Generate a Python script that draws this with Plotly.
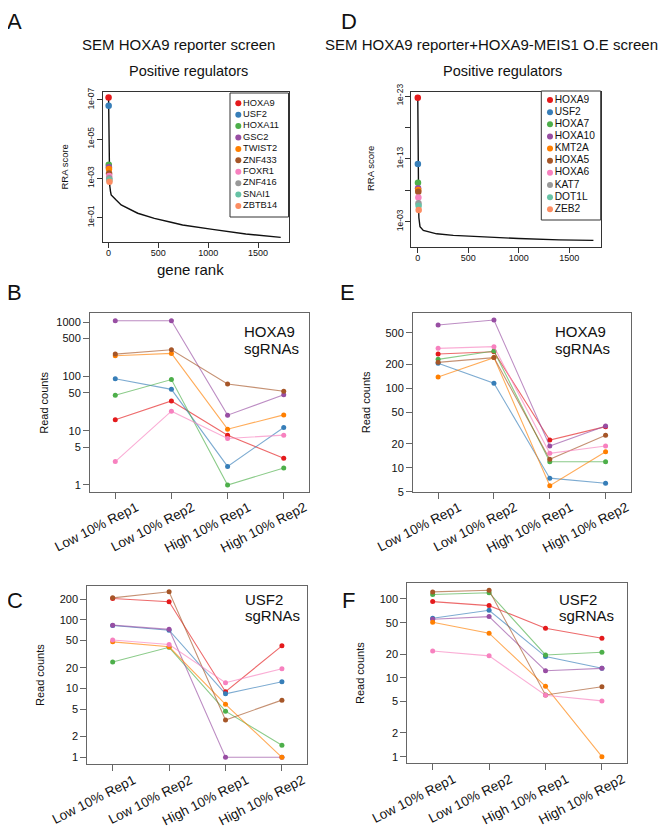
import plotly.graph_objects as go

# The page body has an 8px margin; positions below are given in reference-picture pixels
OFF = 8
W, H = 668 - OFF, 833 - OFF
FONT = "Liberation Sans, Arial, Helvetica, sans-serif"

# ---------------- data ----------------
colors10 = ["#E41A1C", "#377EB8", "#4DAF4A", "#984EA3", "#FF7F00",
            "#A65628", "#F781BF", "#999999", "#66C2A5", "#FC8D62"]

# Panel A: SEM HOXA9 reporter screen
A_genes = ["HOXA9", "USF2", "HOXA11", "GSC2", "TWIST2", "ZNF433", "FOXR1", "ZNF416", "SNAI1", "ZBTB14"]
A_gene_rank = [1, 2, 3, 4, 5, 6, 7, 8, 9, 10]
A_gene_score = [7.6e-8, 2.0e-7, 2.0e-4, 2.7e-4, 3.3e-4, 5.5e-4, 7.4e-4, 9.8e-4, 1.2e-3, 1.45e-3]
A_curve_rank = [1, 2, 3, 4, 5, 6, 7, 8, 9, 10, 12, 20, 27, 77, 127, 293, 460, 627, 743, 1043, 1377, 1727]
A_curve_score = [7.6e-8, 2.0e-7, 2.0e-4, 2.7e-4, 3.3e-4, 5.5e-4, 7.4e-4, 9.8e-4, 1.2e-3, 1.45e-3,
                 2.2e-3, 4.5e-3, 6.9e-3, 0.0126, 0.0224, 0.059, 0.107, 0.17, 0.234, 0.39, 0.676, 1.0]

# Panel D: SEM HOXA9 reporter + HOXA9-MEIS1 O.E screen
D_genes = ["HOXA9", "USF2", "HOXA7", "HOXA10", "KMT2A", "HOXA5", "HOXA6", "KAT7", "DOT1L", "ZEB2"]
D_gene_rank = [1, 2, 3, 4, 5, 6, 7, 8, 9, 10]
D_gene_score = [1.9e-23, 6.8e-13, 6.5e-10, 5.0e-9, 9.3e-9, 1.7e-8, 1.5e-7, 1.2e-6, 3.0e-6, 1.4e-5]
D_curve_rank = [1, 2, 3, 4, 5, 6, 7, 8, 9, 10, 12, 23, 56, 188, 353, 518, 700, 1000, 1400, 1740]
D_curve_score = [1.9e-23, 6.8e-13, 6.5e-10, 5.0e-9, 9.3e-9, 1.7e-8, 1.5e-7, 1.2e-6, 3.0e-6, 1.4e-5,
                 2.5e-4, 6.3e-3, 0.025, 0.089, 0.158, 0.224, 0.316, 0.5, 0.83, 1.0]

categories = ["Low 10% Rep1", "Low 10% Rep2", "High 10% Rep1", "High 10% Rep2"]
sg_colors = ["#E41A1C", "#377EB8", "#4DAF4A", "#984EA3", "#FF7F00", "#A65628", "#F781BF"]

# Panel B: HOXA9 sgRNAs (reporter screen)
B_red = [15.9, 35.5, 8.3, 3.1]
B_blue = [91, 58, 2.2, 11.5]
B_green = [45, 88, 1, 2.05]
B_purple = [1070, 1070, 19.4, 46]
B_orange = [242, 267, 10.7, 19.6]
B_brown = [259, 312, 73, 53.5]
B_pink = [2.7, 23, 7.2, 8.3]

# Panel E: HOXA9 sgRNAs (O.E screen)
E_red = [270, 288, 22.3, 32.9]
E_blue = [206, 116, 7.4, 6.4]
E_green = [231, 294, 11.9, 11.9]
E_purple = [625, 722, 18.8, 33.5]
E_orange = [139, 243, 5.94, 15.9]
E_brown = [212, 243, 12.8, 25.6]
E_pink = [318, 334, 15.2, 18.8]

# Panel C: USF2 sgRNAs (reporter screen)
C_red = [205, 184, 9.0, 42]
C_blue = [83, 71, 8.4, 12.6]
C_green = [24.4, 40, 4.7, 1.5]
C_purple = [84, 73, 1, 1]
C_orange = [48, 40.7, 5.9, 1]
C_brown = [210, 257, 3.5, 6.8]
C_pink = [51, 44, 12.2, 19.5]

# Panel F: USF2 sgRNAs (O.E screen)
F_red = [92.7, 82.4, 42.6, 31.8]
F_blue = [57, 72, 18.6, 13.2]
F_green = [114, 120, 19.5, 21.1]
F_purple = [55.4, 59.8, 12.3, 13.2]
F_orange = [50.8, 36.8, 7.8, 1]
F_brown = [123, 129, 6.07, 7.7]
F_pink = [21.9, 19, 6.0, 5.1]

B_ticks = [1, 5, 10, 50, 100, 500, 1000]
E_ticks = [5, 10, 20, 50, 100, 200, 500]
C_ticks = [1, 2, 5, 10, 20, 50, 100, 200]
F_ticks = [1, 2, 5, 10, 20, 50, 100]

# ---------------- helpers ----------------
def px(x):
    return (x - OFF) / W

def py(y):
    return 1 - (y - OFF) / H

def dx(l, r):
    return [px(l), px(r)]

def dy(t, b):
    return [py(b), py(t)]

def rgba(hexc, a):
    hexc = hexc.lstrip("#")
    r, g, b = int(hexc[0:2], 16), int(hexc[2:4], 16), int(hexc[4:6], 16)
    return f"rgba({r},{g},{b},{a})"

fig = go.Figure()
annotations = []
shapes = []

def ann(text, x, y, size, xanchor="center", yanchor="middle", angle=0, color="#111"):
    annotations.append(dict(text=text, x=px(x), y=py(y), xref="paper", yref="paper",
                            xanchor=xanchor, yanchor=yanchor, showarrow=False, textangle=angle,
                            font=dict(family=FONT, size=size, color=color)))

# ---------------- RRA panels ----------------
def rra_panel(idx, rank_c, score_c, grank, gscore, genes):
    xa = "x" if idx == 1 else f"x{idx}"
    ya = "y" if idx == 1 else f"y{idx}"
    fig.add_trace(go.Scatter(x=rank_c, y=score_c, mode="lines", xaxis=xa, yaxis=ya,
                             line=dict(color="#111", width=1.4), showlegend=False, hoverinfo="skip"))
    fig.add_trace(go.Scatter(x=grank, y=gscore, mode="markers", xaxis=xa, yaxis=ya,
                             marker=dict(color=colors10, size=6.5), showlegend=False,
                             text=genes))

rra_panel(1, A_curve_rank, A_curve_score, A_gene_rank, A_gene_score, A_genes)
rra_panel(2, D_curve_rank, D_curve_score, D_gene_rank, D_gene_score, D_genes)

def legend_panel(idx, genes, size):
    xa, ya = f"x{idx}", f"y{idx}"
    fig.add_trace(go.Scatter(x=[0] * len(genes), y=list(range(len(genes))), mode="markers+text",
                             xaxis=xa, yaxis=ya, text=genes, textposition="middle right",
                             textfont=dict(family=FONT, size=size, color="#111"),
                             marker=dict(color=colors10, size=6), showlegend=False, hoverinfo="skip"))

legend_panel(7, A_genes, 9.3)
legend_panel(8, D_genes, 10.2)

# ---------------- sgRNA panels ----------------
def sg_panel(idx, series):
    xa, ya = f"x{idx}", f"y{idx}"
    for vals, c in zip(series, sg_colors):
        fig.add_trace(go.Scatter(x=[0, 1, 2, 3], y=vals, mode="lines+markers", xaxis=xa, yaxis=ya,
                                 line=dict(color=rgba(c, 0.65), width=1.1),
                                 marker=dict(color=c, size=5), showlegend=False))

sg_panel(3, [B_red, B_blue, B_green, B_purple, B_orange, B_brown, B_pink])
sg_panel(4, [E_red, E_blue, E_green, E_purple, E_orange, E_brown, E_pink])
sg_panel(5, [C_red, C_blue, C_green, C_purple, C_orange, C_brown, C_pink])
sg_panel(6, [F_red, F_blue, F_green, F_purple, F_orange, F_brown, F_pink])

# ---------------- axes ----------------
lay = dict(width=W, height=H, autosize=False,
           margin=dict(l=0, r=0, t=0, b=0, pad=0, autoexpand=False),
           paper_bgcolor="white", plot_bgcolor="white", showlegend=False)

def base_axis(**kw):
    d = dict(showgrid=False, zeroline=False, showline=True, mirror=True, automargin=False,
             linecolor="#333", linewidth=1, ticks="outside", ticklen=5, tickcolor="#333",
             tickfont=dict(family=FONT, size=9, color="#111"))
    d.update(kw)
    return d

# A
lay["xaxis"] = base_axis(domain=dx(102.7, 288.5), range=[-58, 1805], anchor="y",
                         tickvals=[0, 500, 1000, 1500], ticklabelstandoff=-3)
lay["yaxis"] = base_axis(domain=dy(92.3, 241.7), type="log", range=[0.22, -7.39], anchor="x",
                         tickvals=[1e-7, 1e-5, 1e-3, 1e-1],
                         ticktext=["1e-07", "1e-05", "1e-03", "1e-01"], tickangle=-90,
                         ticklabelstandoff=-1,
                         tickfont=dict(family=FONT, size=8.5, color="#111"))
# D
lay["xaxis2"] = base_axis(domain=dx(411, 600.7), range=[-66, 1812], anchor="y2",
                          tickvals=[0, 500, 1000, 1500], ticklabelstandoff=-3)
lay["yaxis2"] = base_axis(domain=dy(92.3, 246.7), type="log", range=[1.0, -23.59], anchor="x2",
                          tickvals=[1e-23, 1e-18, 1e-13, 1e-8, 1e-3],
                          ticktext=["1e-23", "", "1e-13", "", "1e-03"], tickangle=-90,
                          ticklabelstandoff=-1,
                          tickfont=dict(family=FONT, size=8.5, color="#111"))

def sg_axes(idx, xl, xr, yt, yb, yrange, ticks):
    lay[f"xaxis{idx}"] = base_axis(domain=dx(xl, xr), range=[-0.45, 3.45], anchor=f"y{idx}",
                                   tickvals=[0, 1, 2, 3], ticktext=categories, tickangle=-27,
                                   linecolor="#666", tickcolor="#666", ticklen=6,
                                   ticklabelshift=21, ticklabelstandoff=-4,
                                   tickfont=dict(family=FONT, size=13.5, color="#111"))
    lay[f"yaxis{idx}"] = base_axis(domain=dy(yt, yb), type="log", range=yrange, anchor=f"x{idx}",
                                   tickvals=ticks, ticktext=[str(t) for t in ticks],
                                   linecolor="#666", tickcolor="#666", ticklen=6,
                                   tickfont=dict(family=FONT, size=11, color="#111"))

sg_axes(3, 90, 309, 313.3, 491.7, [-0.124, 3.166], B_ticks)
sg_axes(4, 413, 630.7, 313.3, 491.7, [0.699, 2.943], E_ticks)
sg_axes(5, 87.3, 307.3, 585.7, 764.3, [-0.102, 2.499], C_ticks)
sg_axes(6, 407.3, 627.3, 583.3, 763.3, [-0.084, 2.199], F_ticks)

# legend axes (hidden)
hidden = dict(visible=False, showgrid=False, zeroline=False, automargin=False)
lay["xaxis7"] = dict(domain=dx(230, 288.5), range=[-8.3, 50.2], anchor="y7", **hidden)
lay["yaxis7"] = dict(domain=dy(93, 217), range=[9.97, -0.904], anchor="x7", **hidden)
lay["xaxis8"] = dict(domain=dx(541.3, 600.7), range=[-8.7, 50.7], anchor="y8", **hidden)
lay["yaxis8"] = dict(domain=dy(91, 220), range=[9.88, -0.74], anchor="x8", **hidden)

shapes.append(dict(type="rect", xref="paper", yref="paper", x0=px(230), x1=px(288.5),
                   y0=py(217), y1=py(93), line=dict(color="#333", width=1)))
shapes.append(dict(type="rect", xref="paper", yref="paper", x0=px(541.3), x1=px(600.7),
                   y0=py(220), y1=py(91), line=dict(color="#333", width=1)))

# ---------------- texts ----------------
for letter, x, y in [("A", 14.5, 21.5), ("D", 348.5, 21.5), ("B", 14.5, 292.5),
                     ("E", 347.5, 292.5), ("C", 15, 600), ("F", 348, 600)]:
    ann(letter, x, y, 22)

ann("SEM HOXA9 reporter screen", 178.5, 45, 15)
ann("SEM HOXA9 reporter+HOXA9-MEIS1 O.E screen", 492, 45, 15)
ann("Positive regulators", 188, 71, 14.5)
ann("Positive regulators", 502, 71, 14.5)
ann("RRA score", 63.5, 167, 9.5, angle=-90)
ann("RRA score", 370, 169, 9.5, angle=-90)
ann("gene rank", 190.7, 269, 15)

ann("Read counts", 43.3, 402.5, 11, angle=-90)
ann("Read counts", 365.7, 402.5, 11, angle=-90)
ann("Read counts", 40, 675, 11, angle=-90)
ann("Read counts", 360.7, 673.3, 11, angle=-90)

for (t1, x, y1) in [("HOXA9", 242, 331.5), ("HOXA9", 553, 331.5), ("USF2", 243, 599), ("USF2", 557, 599)]:
    ann(t1, x, y1, 15, xanchor="left")
    ann("sgRNAs", x, y1 + 16.5, 15, xanchor="left")

lay["annotations"] = annotations
lay["shapes"] = shapes
fig.update_layout(**lay)
fig.write_html("out.html")
